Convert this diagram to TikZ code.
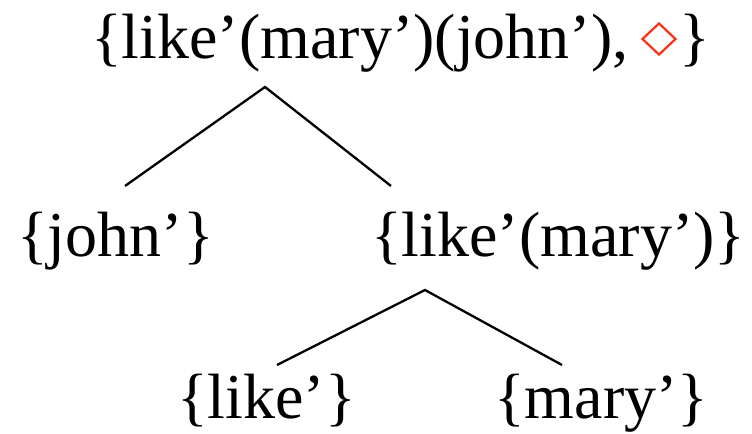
\documentclass[tikz,border=0pt]{standalone}
\usepackage{fontspec}
\setmainfont{Liberation Serif}
\usepackage{tikz}
\usepackage{xcolor}
\usetikzlibrary{positioning,shapes.geometric}
\definecolor{diamondred}{RGB}{250,50,20}
\newcommand{\treefont}{\fontsize{64bp}{72bp}\selectfont}

\begin{document}
\begin{tikzpicture}[x=1bp,y=-1bp,every node/.style={font=\treefont,inner sep=0pt,anchor=base west}]
\useasboundingbox (0,0) rectangle (752,434);
\node (root) at (91,59) {\{like’(mary’)(john’),};
\node[diamond,draw=diamondred,line width=2.2bp,minimum width=34bp,minimum height=32bp,anchor=center] (diam) at (659,39) {};
\node (rbrace) at (679,59) {\}};

\node (john) at (17,257) {\{john’\}};
\node (likemary) at (371,257) {\{like’(mary’)\}};

\node (like) at (177,418) {\{like’\}};
\node (mary) at (494,418) {\{mary’\}};

\coordinate (top) at (265,87);
\coordinate (topl) at (125,186);
\coordinate (topr) at (391,186);
\coordinate (mid) at (425,290);
\coordinate (midl) at (277,365);
\coordinate (midr) at (562,365);

\draw[line width=2.3bp] (topl) -- (top) -- (topr);
\draw[line width=2.3bp] (midl) -- (mid) -- (midr);
\end{tikzpicture}
\end{document}
